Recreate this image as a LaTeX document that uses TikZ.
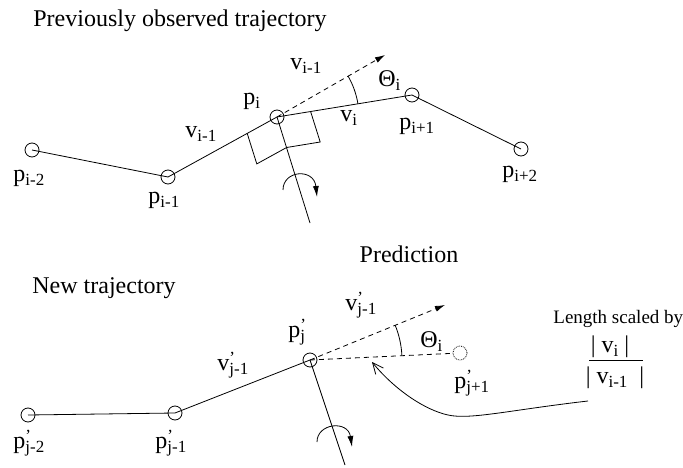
\documentclass[tikz,border=0pt]{standalone}
\usepackage{fontspec}
\setmainfont{Liberation Serif}
\usetikzlibrary{arrows.meta}
\newcommand{\subsz}{\fontsize{17}{17}\selectfont}
\newcommand{\mysub}[2]{#1\raisebox{-4pt}{\subsz #2}}
\newcommand{\mysubp}[2]{#1\rlap{\raisebox{7pt}{\subsz '}}\raisebox{-4pt}{\subsz #2}}
\begin{document}
\begin{tikzpicture}[x=1pt,y=-1pt,line width=0.8pt,
  pt/.style={circle,draw,line width=0.8pt,minimum size=14pt,inner sep=0pt},
  ptdot/.style={pt,densely dotted},
  lab/.style={anchor=base west,inner sep=0pt,font=\fontsize{24}{24}\selectfont},
  ttl/.style={anchor=base west,inner sep=0pt,font=\fontsize{24}{24}\selectfont},
  dsh/.style={dash pattern=on 5pt off 4pt},
  head/.style={-{Latex[length=10pt,width=6pt]}},
  rothead/.style={-{Latex[length=11pt,width=6pt]}}
]
\useasboundingbox (0,0) rectangle (683,468);

% ---------- top trajectory ----------
\node[pt] (pim2) at (32,150) {};
\node[pt] (pim1) at (168,177) {};
\node[pt] (pi) at (277,117) {};
\node[pt] (pip1) at (412,95) {};
\node[pt] (pip2) at (521,149) {};
\coordinate (vdir) at (385,55);
\coordinate (axtop) at (310,223);
\coordinate (qA) at (247.2,133.4);
\coordinate (qB) at (256.8,163.9);
\coordinate (qC) at (286.6,147.5);
\coordinate (qE) at (320.2,142);
\coordinate (qD) at (310.6,111.5);
\coordinate (rt1) at (283,190);
\coordinate (rt2) at (317,197);

\draw (pim2.center) -- (pim1.center);
\draw (pim1.center) -- (pi.center);
\draw (pi.center) -- (pip1.center);
\draw (pip1.center) -- (pip2.center);
\draw[dsh,head] (pi.center) -- (vdir);
\draw (pi.center) -- (axtop);
\draw (qA) -- (qB) -- (qC) -- (qE) -- (qD);
\draw ([shift={(-29.9:82)}]pi.center) arc[start angle=-29.9,end angle=-9.3,radius=82];
\draw[rothead] (rt1) .. controls (283,170) and (314,168) .. (rt2);

\node[ttl] (t1) at (33,27) {Previously observed trajectory};
\node[lab] (lvim1) at (290,70) {\mysub{v}{i-1}};
\node[lab] (lpi) at (243,105) {\mysub{p}{i}};
\node[lab] (lth) at (378,87) {\mysub{Θ}{i}};
\node[lab] (lvi) at (340,122) {\mysub{v}{i}};
\node[lab] (lpip1) at (399,130) {\mysub{p}{i+1}};
\node[lab] (lvim1b) at (185,138) {\mysub{v}{i-1}};
\node[lab] (lpim2) at (13,182) {\mysub{p}{i-2}};
\node[lab] (lpim1) at (148,204) {\mysub{p}{i-1}};
\node[lab] (lpip2) at (502,178) {\mysub{p}{i+2}};

% ---------- bottom trajectory ----------
\node[pt] (qjm2) at (28,415) {};
\node[pt] (qjm1) at (175,413) {};
\node[pt] (qj) at (310,360) {};
\node[ptdot] (qjp1) at (460,353) {};
\coordinate (vdir2) at (445,305);
\coordinate (axbot) at (345,465);
\coordinate (rb1) at (317,442);
\coordinate (rb2) at (352,447);
\coordinate (cs) at (588,401);
\coordinate (ce) at (372,362);
\coordinate (fl1) at (589,360);
\coordinate (fl2) at (643,360);

\draw (qjm2.center) -- (qjm1.center);
\draw (qjm1.center) -- (qj.center);
\draw[dsh] (qj.center) -- (qjp1);
\draw[dsh,head] (qj.center) -- (vdir2);
\draw (qj.center) -- (axbot);
\draw ([shift={(-22.2:92)}]qj.center) arc[start angle=-22.2,end angle=-2.7,radius=92];
\draw[rothead] (rb1) .. controls (317,423) and (348,420) .. (rb2);
\draw[-{Straight Barb[length=11pt,width=10pt]}] (cs) .. controls (510,410) and (470,420) .. (448,415) .. controls (425,410) and (395,390) .. (ce);
\draw (fl1) -- (fl2);

\node[ttl] (t2) at (32,293) {New trajectory};
\node[ttl,anchor=base] (t3) at (409,262) {Prediction};
\node[lab] (lqj) at (288,337) {\mysubp{p}{j}};
\node[lab] (lvq1) at (345,310) {\mysubp{v}{j-1}};
\node[lab] (lth2) at (420,347) {\mysub{Θ}{i}};
\node[lab] (lqjp1) at (454,388) {\mysubp{p}{j+1}};
\node[lab] (lvq2) at (217,370) {\mysubp{v}{j-1}};
\node[lab] (lqjm2) at (13,448) {\mysubp{p}{j-2}};
\node[lab] (lqjm1) at (155,448) {\mysubp{p}{j-1}};
\node[anchor=base west,inner sep=0pt,font=\fontsize{19}{19}\selectfont] (len) at (553,323) {Length scaled by};
\node[lab,anchor=base] (num) at (610,352) {| \mysub{v}{i} |};
\node[lab,anchor=base] (den) at (615,383) {| \mysub{v}{i-1}\ \ |};
\end{tikzpicture}
\end{document}
